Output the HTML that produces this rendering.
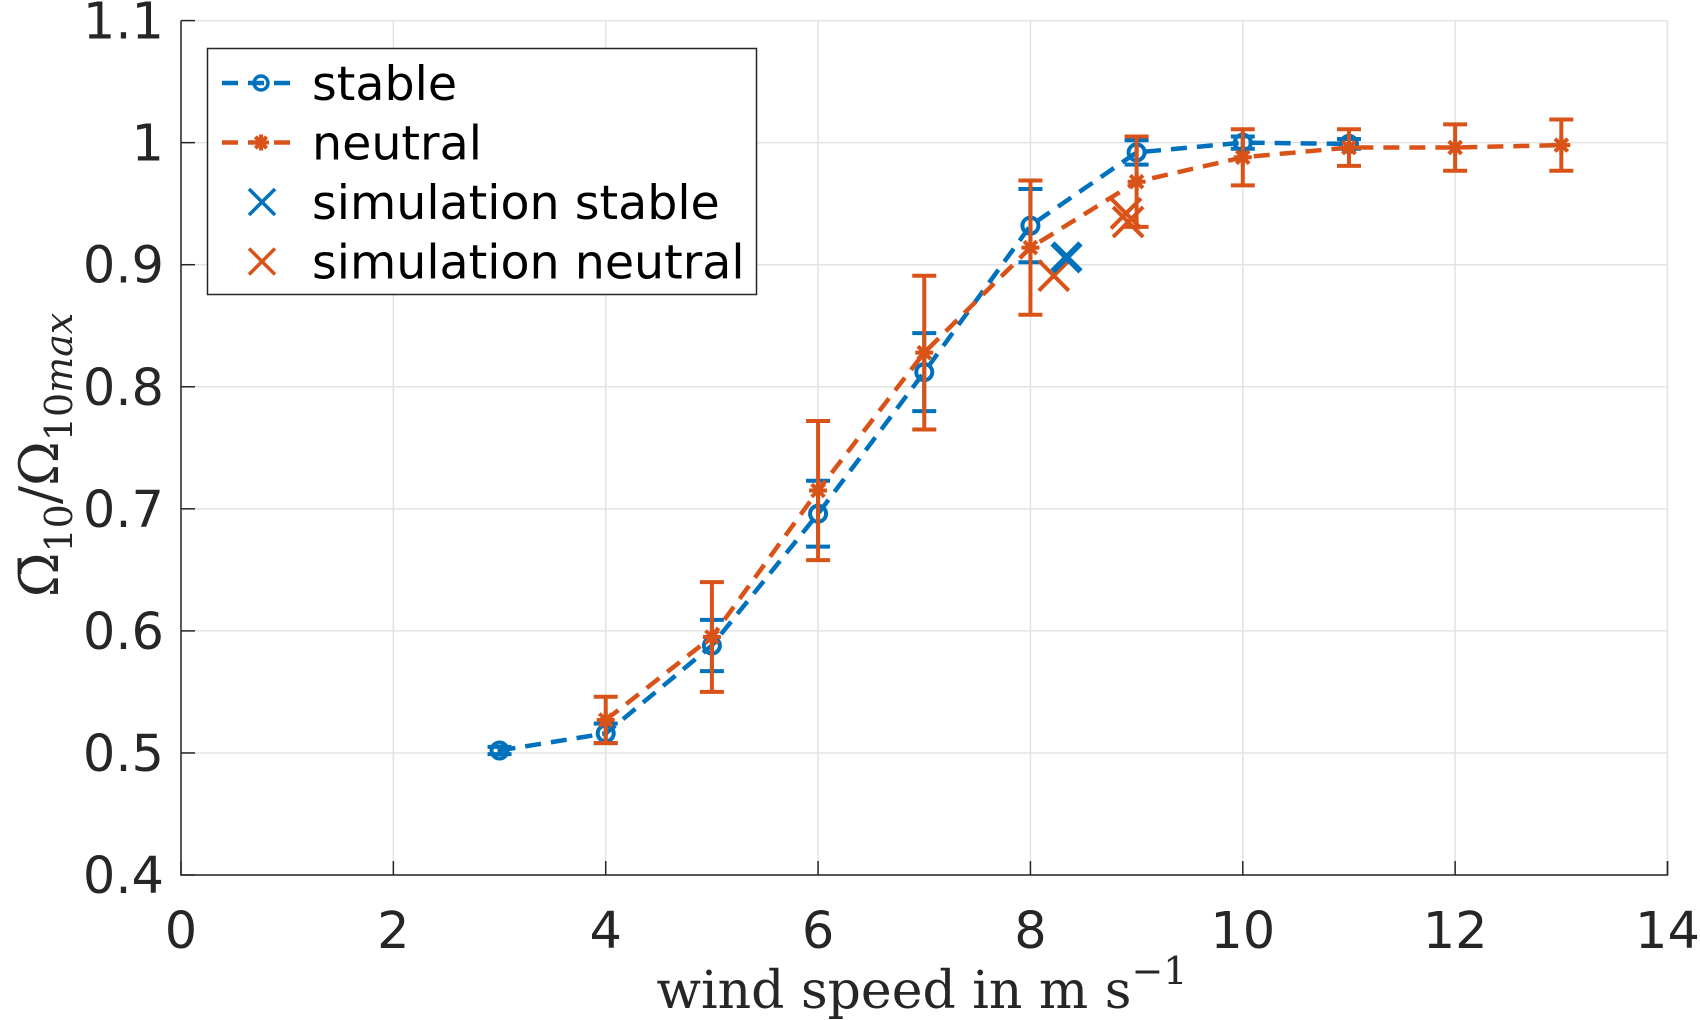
<!DOCTYPE html>
<html><head><meta charset="utf-8"><style>
html,body{margin:0;padding:0;background:#fff;}
svg{display:block;font-family:"DejaVu Sans","Liberation Sans",sans-serif;}
</style></head><body>
<svg id="chart" width="1700" height="1020" viewBox="0 0 1700 1020" xmlns="http://www.w3.org/2000/svg">
<g id="grid"></g>
<g id="axes"></g>
<g id="series"></g>
<g id="legend"></g>
<text x="922" y="1008" text-anchor="middle" font-family="'DejaVu Serif','Liberation Serif',serif" font-size="52" fill="#262626">wind speed in m s<tspan dy="-24" font-size="38">−1</tspan></text>
<text transform="translate(58,455) rotate(-90)" text-anchor="middle" font-family="'DejaVu Serif','Liberation Serif',serif" font-size="54" fill="#262626">Ω̄<tspan dy="14" font-size="38">10</tspan><tspan dy="-14">/Ω</tspan><tspan dy="14" font-size="38">10</tspan><tspan font-size="38" font-style="italic">max</tspan></text>
</svg>
<script>
const xTicks=[0,2,4,6,8,10,12,14];
const yTicks=[0.4,0.5,0.6,0.7,0.8,0.9,1.0,1.1];
const yTickLabels=["0.4","0.5","0.6","0.7","0.8","0.9","1","1.1"];
const stableX=[3,4,5,6,7,8,9,10,11];
const stableY=[0.502,0.516,0.588,0.696,0.812,0.932,0.992,1.0,0.999];
const stableErr=[0.003,0.008,0.021,0.027,0.032,0.03,0.01,0.005,0.004];
const neutralX=[4,5,6,7,8,9,10,11,12,13];
const neutralY=[0.527,0.595,0.715,0.828,0.914,0.968,0.988,0.996,0.996,0.998];
const neutralErr=[0.019,0.045,0.057,0.063,0.055,0.037,0.023,0.015,0.019,0.021];
const simStableX=[8.34];
const simStableY=[0.906];
const simNeutralX=[8.22,8.9,8.92];
const simNeutralY=[0.891,0.942,0.935];

const L=181,R=1667.5,T=20.6,B=875;
const xs=v=>L+(v-0)/14*(R-L);
const ys=v=>B-(v-0.4)/0.7*(B-T);
const NS="http://www.w3.org/2000/svg";
const BLUE="#0072BD",ORANGE="#D95319";
function mk(tag,attrs,parent){const e=document.createElementNS(NS,tag);for(const k in attrs)e.setAttribute(k,attrs[k]);parent.appendChild(e);return e;}
const grid=document.getElementById('grid'),axes=document.getElementById('axes'),series=document.getElementById('series'),legend=document.getElementById('legend');

xTicks.forEach(t=>{
 const g=mk('line',{x1:xs(t),x2:xs(t),y1:T,y2:B,stroke:'#e3e3e3','stroke-width':1.5},grid);
 
 
 const tk=mk('line',{x1:xs(t),x2:xs(t),y1:B,y2:B-14,stroke:'#262626','stroke-width':1.5},axes);
 
 
 const tx=mk('text',{x:xs(t),y:948,'text-anchor':'middle','font-size':51,fill:'#262626'},axes);
 tx.textContent=t;
 
 
});
yTicks.forEach((t,i)=>{
 const g=mk('line',{x1:L,x2:R,y1:ys(t),y2:ys(t),stroke:'#e3e3e3','stroke-width':1.5},grid);
 
 
 const tk=mk('line',{x1:L,x2:L+14,y1:ys(t),y2:ys(t),stroke:'#262626','stroke-width':1.5},axes);
 
 
 const tx=mk('text',{x:164,y:ys(t)+18,'text-anchor':'end','font-size':51,fill:'#262626'},axes);
 tx.textContent=yTickLabels[i];
 
 
});
const ax=mk('path',{d:`M${L},${T}V${B}H${R}V${B-14}`,fill:'none',stroke:'#262626','stroke-width':1.5},axes);



function star(g,cx,cy,color,s){
 for(let k=0;k<4;k++){const a=k*Math.PI/4;
  mk('line',{x1:cx-s*Math.cos(a),y1:cy-s*Math.sin(a),x2:cx+s*Math.cos(a),y2:cy+s*Math.sin(a),stroke:color,'stroke-width':4},g);}
 mk('circle',{cx:cx,cy:cy,r:5,fill:color},g);
}
function drawSeries(X,Y,E,color,marker,name){
 const g=mk('g',{},series);
 
 
 const p=mk('polyline',{points:X.map((x,i)=>xs(x)+','+ys(Y[i])).join(' '),fill:'none',stroke:color,'stroke-width':4.5,'stroke-dasharray':'16 10'},g);
 
 
 X.forEach((x,i)=>{
  const cx=xs(x),y1=ys(Y[i]-E[i]),y2=ys(Y[i]+E[i]);
  const eb=mk('path',{d:`M${cx},${y1}V${y2}M${cx-12},${y1}H${cx+12}M${cx-12},${y2}H${cx+12}`,stroke:color,'stroke-width':4,fill:'none'},g);
  
  
  let m;
  if(marker==='o'){ m=mk('circle',{cx:cx,cy:ys(Y[i]),r:8,fill:'none',stroke:color,'stroke-width':4},g);}
  else { m=mk('g',{},g); star(m,cx,ys(Y[i]),color,9);}
  
  
 });
}
drawSeries(stableX,stableY,stableErr,BLUE,'o','stable');
drawSeries(neutralX,neutralY,neutralErr,ORANGE,'*','neutral');
function drawX(X,Y,color,w,s,name){
 X.forEach((x,i)=>{
  const cx=xs(x),cy=ys(Y[i]);
  const m=mk('path',{d:`M${cx-s},${cy-s}L${cx+s},${cy+s}M${cx-s},${cy+s}L${cx+s},${cy-s}`,stroke:color,'stroke-width':w},series);
  
  
 });
}
drawX(simNeutralX,simNeutralY,ORANGE,4,15,'simulation-neutral');
drawX(simStableX,simStableY,BLUE,6,14,'simulation-stable');

const lb=mk('rect',{x:207.5,y:48.5,width:549,height:246,fill:'#fff',stroke:'#262626','stroke-width':1.5},legend);


const items=[['stable',BLUE,'o'],['neutral',ORANGE,'*'],['simulation stable',BLUE,'x'],['simulation neutral',ORANGE,'x']];
items.forEach((it,i)=>{
 const cy=83+i*59.5;
 const g=mk('g',{},legend);
 
 
 if(it[2]!=='x'){
  mk('line',{x1:222,x2:300,y1:cy,y2:cy,stroke:it[1],'stroke-width':4.5,'stroke-dasharray':'16 10'},g);
  if(it[2]==='o') mk('circle',{cx:261,cy:cy,r:7,fill:'none',stroke:it[1],'stroke-width':3.5},g);
  else star(g,261,cy,it[1],8);
 } else {
  mk('path',{d:`M${249},${cy-13}L${275},${cy+13}M${249},${cy+13}L${275},${cy-13}`,stroke:it[1],'stroke-width':3.5},g);
 }
 const t=mk('text',{x:312,y:cy+17,'font-size':47.5,fill:'#000'},g);
 t.textContent=it[0];
});
</script>
</body></html>
